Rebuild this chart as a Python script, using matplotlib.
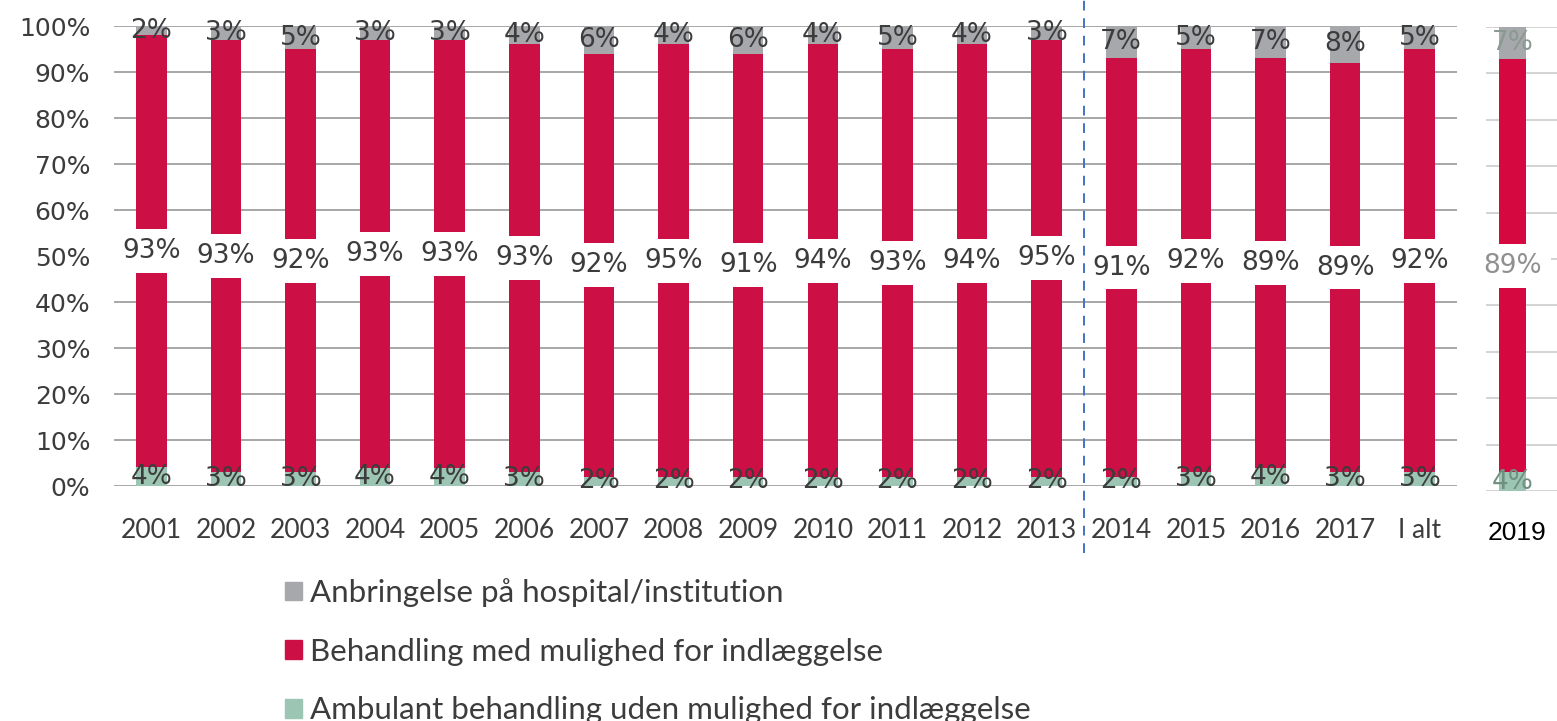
import numpy as np
import matplotlib.pyplot as plt
from matplotlib.patches import Patch

# Data: shown percentages per year
years = ["2001", "2002", "2003", "2004", "2005", "2006", "2007", "2008", "2009",
         "2010", "2011", "2012", "2013", "2014", "2015", "2016", "2017", "I alt"]
anbringelse = [2, 3, 5, 3, 3, 4, 6, 4, 6, 4, 5, 4, 3, 7, 5, 7, 8, 5]
behandling = [93, 93, 92, 93, 93, 93, 92, 95, 91, 94, 93, 94, 95, 91, 92, 89, 89, 92]
ambulant = [4, 3, 3, 4, 4, 3, 2, 2, 2, 2, 2, 2, 2, 2, 3, 4, 3, 3]

year_2019 = "2019"
anbringelse_2019 = 7
behandling_2019 = 89
ambulant_2019 = 4

legend_labels = ["Anbringelse på hospital/institution",
                 "Behandling med mulighed for indlæggelse",
                 "Ambulant behandling uden mulighed for indlæggelse"]

c_gray = "#A7A8AC"
c_red = "#CC1046"
c_green = "#9CC5B4"
c_text = "#3C3C3C"

fig = plt.figure(figsize=(15.57, 7.21), dpi=100)

# ---- main chart ----
ax = fig.add_axes([0.0732, 0.3259, 0.8626, 0.638])
x = np.arange(len(years))
amb = np.array(ambulant, dtype=float)
beh = np.array(behandling, dtype=float)
anb = np.array(anbringelse, dtype=float)
tot = amb + beh + anb
amb_s, beh_s, anb_s = amb / tot * 100, beh / tot * 100, anb / tot * 100

w = 0.41
ax.bar(x, amb_s, w, color=c_green, zorder=2)
ax.bar(x, beh_s, w, bottom=amb_s, color=c_red, zorder=2)
ax.bar(x, anb_s, w, bottom=amb_s + beh_s, color=c_gray, zorder=2)

for i in range(len(years)):
    ax.text(x[i], amb_s[i] / 2, f"{ambulant[i]}%", ha="center", va="center",
            fontsize=19, color=c_text, zorder=4)
    ax.text(x[i], amb_s[i] + beh_s[i] / 2, f"{behandling[i]}%", ha="center",
            va="center", fontsize=19, color=c_text, zorder=4,
            bbox=dict(boxstyle="square,pad=0.34", fc="white", ec="none"))
    ax.text(x[i], amb_s[i] + beh_s[i] + anb_s[i] / 2, f"{anbringelse[i]}%",
            ha="center", va="center", fontsize=19, color=c_text, zorder=4)

ax.set_xlim(-0.5, 17.5)
ax.set_ylim(0, 100)
ax.set_yticks(np.arange(0, 101, 10))
ax.set_yticklabels([f"{v}%" for v in range(0, 101, 10)])
ax.set_xticks(x)
ax.set_xticklabels(years)
ax.grid(axis="y", color="#A0A0A0", linewidth=1.3, zorder=0)
ax.set_axisbelow(True)
for s in ax.spines.values():
    s.set_visible(False)
ax.tick_params(axis="y", length=0, pad=17, labelsize=18, labelcolor=c_text)
ax.tick_params(axis="x", length=0, pad=23, labelsize=19, labelcolor=c_text)
for lab in ax.get_xticklabels():
    lab.set_fontfamily("Lato")

ax.axvline(12.5, ymin=-0.146, ymax=1.06, color="#4472C4", linewidth=1.4,
           linestyle=(0, (5, 4)), clip_on=False, zorder=5)

# ---- pasted 2019 panel ----
ax2 = fig.add_axes([0.9544, 0.319, 0.0456, 0.6436])
ax2.bar([0], [ambulant_2019], 0.5, color=c_green, zorder=2)
ax2.bar([0], [behandling_2019], 0.5, bottom=[ambulant_2019], color="#D5083F", zorder=2)
ax2.bar([0], [anbringelse_2019], 0.5, bottom=[ambulant_2019 + behandling_2019],
        color=c_gray, zorder=2)
ax2.text(0, ambulant_2019 / 2, f"{ambulant_2019}%", ha="center", va="center",
         fontsize=19, color="#6F8F80", zorder=4)
ax2.text(0, ambulant_2019 + behandling_2019 / 2, f"{behandling_2019}%", ha="center",
         va="center", fontsize=19, color="#909090", zorder=4,
         bbox=dict(boxstyle="square,pad=0.34", fc="white", ec="none"))
ax2.text(0, ambulant_2019 + behandling_2019 + anbringelse_2019 / 2,
         f"{anbringelse_2019}%", ha="center", va="center", fontsize=19,
         color="#8A9A92", zorder=4)
ax2.set_xlim(-0.49, 0.82)
ax2.set_ylim(0, 100)
ax2.set_yticks(np.arange(0, 101, 10))
ax2.set_xticks([])
ax2.tick_params(axis="y", length=0, labelleft=False)
ax2.grid(axis="y", color="#D0D0D0", linewidth=1.3, zorder=0)
ax2.set_axisbelow(True)
for s in ax2.spines.values():
    s.set_visible(False)
fig.text(1517 / 1557, 1 - 533 / 721, year_2019, ha="center", va="center",
         fontsize=19, color="black", family="Liberation Sans")

# ---- legend ----
handles = [Patch(color=c_gray), Patch(color=c_red), Patch(color=c_green)]
fig.legend(handles, legend_labels, loc="upper left",
           bbox_to_anchor=(285 / 1557, 1 - 578 / 721), frameon=False,
           prop={"family": "Lato", "size": 22.5}, labelcolor=c_text,
           handlelength=0.55, handleheight=0.55, handletextpad=0.25,
           labelspacing=0.98, borderpad=0, borderaxespad=0)

plt.savefig("out.png", dpi=100)
